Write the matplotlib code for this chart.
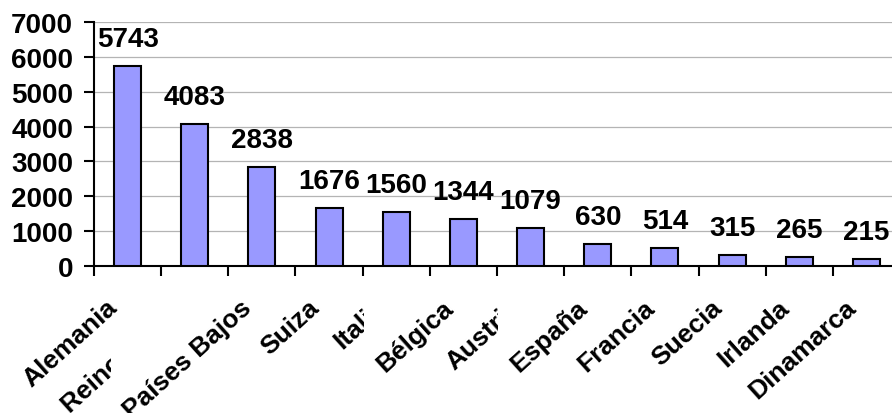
import matplotlib
matplotlib.use('Agg')
import matplotlib.pyplot as plt
import numpy as np
from matplotlib.transforms import Bbox, ScaledTranslation

paises = ['Alemania', 'Reino Unido', 'Países Bajos', 'Suiza', 'Italia', 'Bélgica',
          'Austria', 'España', 'Francia', 'Suecia', 'Irlanda', 'Dinamarca']
valores = [5743, 4083, 2838, 1676, 1560, 1344, 1079, 630, 514, 315, 265, 215]
y_ticks = [0, 1000, 2000, 3000, 4000, 5000, 6000, 7000]

# labels that run into their neighbour get cut off at the neighbour's left edge
cortados = ['Reino Unido', 'Italia', 'Austria']

plt.rcParams['font.family'] = ['Liberation Sans', 'DejaVu Sans']
plt.rcParams['font.weight'] = 'bold'

fig = plt.figure(figsize=(8.92, 4.14), dpi=100)
ax = fig.add_axes([94 / 892, 147 / 414, 806 / 892, 244 / 414])

x = np.arange(len(paises))
barras = ax.bar(x, valores, width=0.40, color='#9999FF', edgecolor='black',
                linewidth=1.5, zorder=3)

for xi, v in zip(x, valores):
    ax.annotate(str(v), xy=(xi, v), xytext=(0, 14.4), textcoords='offset points',
                ha='center', va='baseline', fontsize=20, fontweight='bold',
                zorder=4)

ax.set_xlim(-0.5, len(paises) - 0.5)
ax.set_ylim(0, 7000)
ax.set_yticks(y_ticks)
ax.set_yticklabels([str(t) for t in y_ticks], fontsize=20, fontweight='bold')
ax.yaxis.grid(True, color='#B4B4B4', linewidth=0.9, zorder=0)
ax.set_axisbelow(True)

ax.set_xticks(x)
ax.set_xticklabels(paises, fontsize=19, fontweight='bold', rotation=42,
                   ha='right', va='baseline', rotation_mode='anchor')
ax.set_xticks(np.arange(-0.5, len(paises), 1), minor=True)
ax.tick_params(axis='x', which='major', length=0, pad=31)
ax.tick_params(axis='x', which='minor', length=7.5, width=1.5, direction='out')
ax.tick_params(axis='y', length=7.5, width=1.5, pad=7.5, direction='out')

desplaza = ScaledTranslation(-9 / 100, 0, fig.dpi_scale_trans)
for lab in ax.get_xticklabels():
    lab.set_transform(lab.get_transform() + desplaza)

for s in ['top', 'right']:
    ax.spines[s].set_visible(False)
for s in ['left', 'bottom']:
    ax.spines[s].set_linewidth(1.5)

fig.canvas.draw()
renderer = fig.canvas.get_renderer()
etiquetas = ax.get_xticklabels()
for i, lab in enumerate(etiquetas):
    if lab.get_text() in cortados and i + 1 < len(etiquetas):
        sig = etiquetas[i + 1].get_window_extent(renderer)
        lab.set_clip_box(Bbox([[0, 0], [sig.x0 - 8, fig.bbox.height]]))
        lab.set_clip_on(True)

fig.savefig('out.png', dpi=100)
